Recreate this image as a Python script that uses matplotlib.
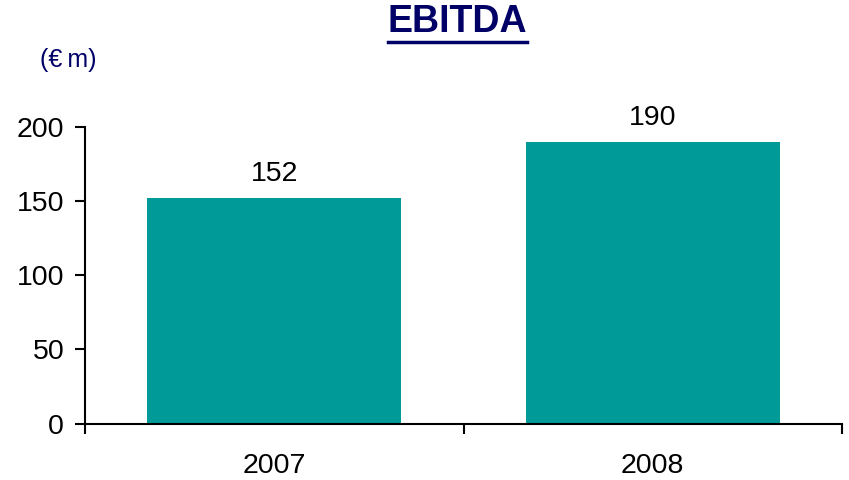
import matplotlib
matplotlib.use("Agg")
import matplotlib.pyplot as plt
from matplotlib.lines import Line2D

years = ["2007", "2008"]
ebitda = [152, 190]
yticks = [0, 50, 100, 150, 200]

bar_color = "#009B99"
navy = "#000066"

plt.rcParams['font.family'] = ['Liberation Sans', 'DejaVu Sans']

fig = plt.figure(figsize=(8.49, 4.8), dpi=100)
ax = fig.add_axes([85/849, 1 - 423.5/480, (842-85)/849, (423.5-127)/480])

x = list(range(len(years)))
bars = ax.bar(x, ebitda, width=0.67, color=bar_color, zorder=2)
for xi, v in zip(x, ebitda):
    ax.annotate(str(v), (xi, v), xytext=(0, 8), textcoords="offset points",
                ha="center", va="bottom", fontsize=20.5, color="black")

ax.set_xlim(-0.5, len(years) - 0.5)
ax.set_ylim(0, 200)
ax.set_yticks(yticks)
ax.set_yticklabels([str(t) for t in yticks], fontsize=20.5)
ax.set_xticks([i - 0.5 for i in range(len(years) + 1)])
ax.set_xticklabels([])
ax.set_xticks(x, minor=True)
ax.set_xticklabels(years, minor=True, fontsize=20.5)
ax.tick_params(axis='x', which='major', length=7, width=1.5, direction='out')
ax.tick_params(axis='x', which='minor', length=0, pad=21)
ax.tick_params(axis='y', length=7, width=1.5, direction='out', pad=8)
for s in ["top", "right"]:
    ax.spines[s].set_visible(False)
for s in ["left", "bottom"]:
    ax.spines[s].set_linewidth(1.5)

fig.text(457/849, 1 - 22/480, "EBITDA", ha="center", va="center",
         fontsize=27, fontweight="bold", color=navy)
fig.add_artist(Line2D([388/849, 527/849], [1 - 42/480, 1 - 42/480],
                      transform=fig.transFigure, color=navy, linewidth=2.5))
fig.text(40/849, 1 - 60/480, "(€\u2009m)", ha="left", va="center",
         fontsize=18, color=navy)

fig.savefig("out.png", dpi=100)
